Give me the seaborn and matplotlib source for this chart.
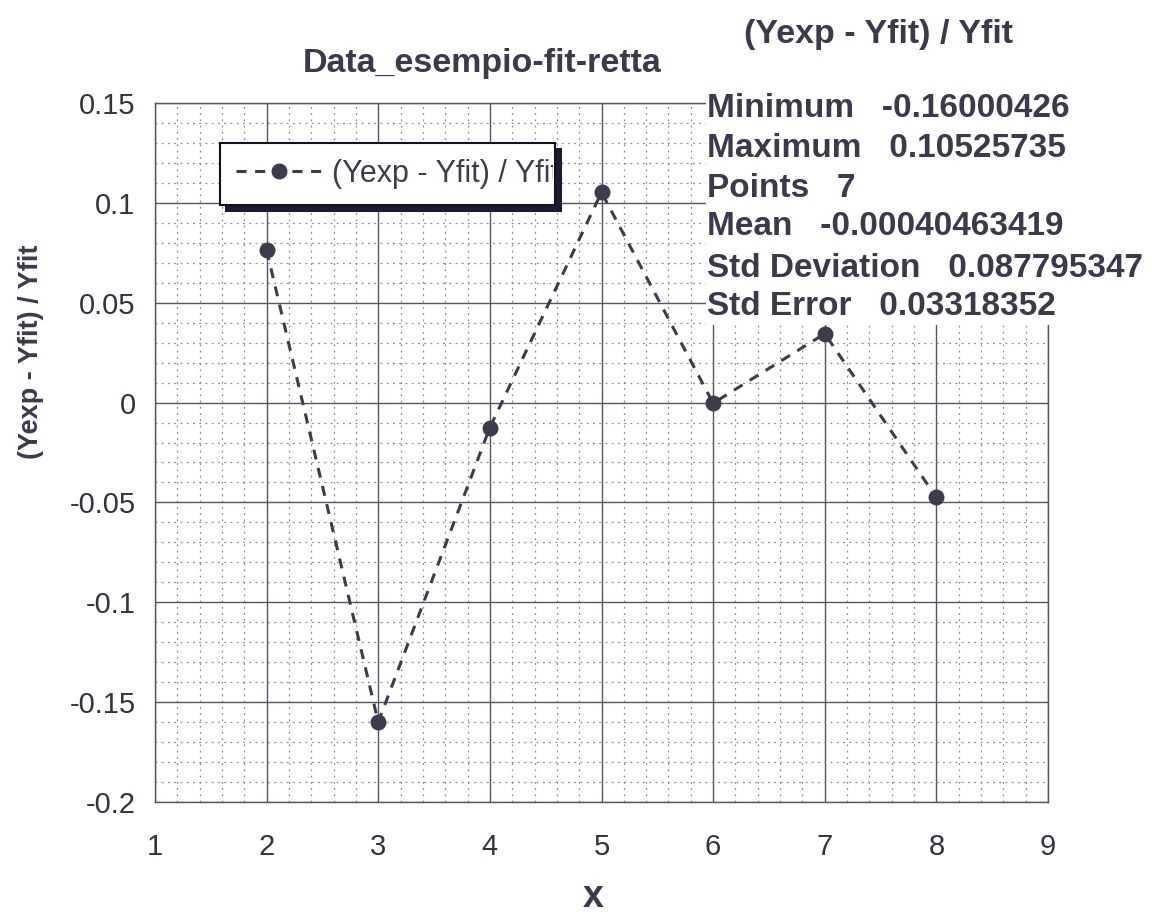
import numpy as np
import pandas as pd
import matplotlib
matplotlib.use("Agg")
import matplotlib.pyplot as plt
from matplotlib.ticker import MultipleLocator, FixedLocator
from matplotlib.patches import Rectangle
from matplotlib.transforms import Bbox, TransformedBbox
import seaborn as sns

# ---- data ----
x_vals = [2, 3, 4, 5, 6, 7, 8]
residuals = [0.0763, -0.16000426, -0.0125, 0.10525735, -0.0003, 0.0345, -0.0475]
series_name = "(Yexp - Yfit) / Yfit"
x_ticks = [1, 2, 3, 4, 5, 6, 7, 8, 9]
y_ticks = [-0.2, -0.15, -0.1, -0.05, 0, 0.05, 0.1, 0.15]
y_tick_labels = ["-0.2", "-0.15", "-0.1", "-0.05", "0", "0.05", "0.1", "0.15"]
stats_labels = ["Minimum", "Maximum", "Points", "Mean", "Std Deviation", "Std Error"]
stats_values = ["-0.16000426", "0.10525735", "7", "-0.00040463419", "0.087795347", "0.03318352"]
title = "Data_esempio-fit-retta"
stats_title = "(Yexp - Yfit) / Yfit"
xlabel = "x"
ylabel = "(Yexp - Yfit) / Yfit"

df = pd.DataFrame({"x": x_vals, "r": residuals})

sns.set_style("white")
plt.rcParams["font.family"] = ["Liberation Sans", "DejaVu Sans"]

W, H = 1160, 915
fig = plt.figure(figsize=(W / 100, H / 100), dpi=100)
fig.patch.set_facecolor("white")

def fx(px):
    return px / W

def fy(py):
    return 1 - py / H

AX_L, AX_R, AX_T, AX_B = 155, 1048, 103, 802
ax = fig.add_axes([fx(AX_L), fy(AX_B), fx(AX_R) - fx(AX_L), fy(AX_T) - fy(AX_B)])

def axx(px):
    return (px - AX_L) / (AX_R - AX_L)

def axy(py):
    return (AX_B - py) / (AX_B - AX_T)

ink = "#3c3c4c"
grid_major = "#55556a"
grid_minor = "#8a8a96"

sns.lineplot(data=df, x="x", y="r", ax=ax, color=ink, marker="o", markersize=11.5,
             markeredgewidth=0, linestyle=(0, (3.3, 2.8)), linewidth=2.2,
             label=series_name, zorder=4)

ax.set_xlim(1, 9)
ax.set_ylim(-0.2, 0.15)
ax.xaxis.set_major_locator(FixedLocator(x_ticks))
ax.yaxis.set_major_locator(FixedLocator(y_ticks))
ax.set_yticklabels(y_tick_labels)
ax.xaxis.set_minor_locator(MultipleLocator(0.2))
ax.yaxis.set_minor_locator(MultipleLocator(0.01))

ax.grid(which="major", color=grid_major, linewidth=1.0, linestyle="-")
ax.grid(which="minor", color=grid_minor, linewidth=0.9, linestyle=(0, (1.5, 3.5)))
ax.set_axisbelow(True)

for s in ax.spines.values():
    s.set_color(grid_major)
    s.set_linewidth(1.0)

ax.tick_params(axis="both", which="major", direction="out", length=10, width=1,
               color=grid_major, labelsize=21, labelcolor="#333340")
ax.tick_params(axis="x", which="major", pad=12)
ax.tick_params(axis="y", which="major", pad=4)
ax.tick_params(which="minor", length=0)
ax.set_xlabel("")
ax.set_ylabel("")

# legend with a fixed-size frame; text clipped at the frame edge as in the reference
lx0, lx1, ly0, ly1 = 220, 555, 143, 205
leg = ax.legend(loc="upper left",
                bbox_to_anchor=(axx(lx0), axy(ly1), axx(lx1) - axx(lx0), axy(ly0) - axy(ly1)),
                mode="expand", frameon=True, fancybox=False, edgecolor="#111122",
                framealpha=1, fontsize=22, handlelength=2.8, handletextpad=0.35,
                borderpad=0.52, borderaxespad=0, numpoints=1,
                shadow={"ox": 4.5, "oy": -4.5, "color": "#1c1c30", "alpha": 1})
leg.get_frame().set_linewidth(1.5)
leg.set_zorder(6)
clip = TransformedBbox(Bbox([[axx(lx0), axy(ly1)], [axx(lx1) - 0.002, axy(ly0)]]), ax.transAxes)
for t in leg.get_texts():
    t.set_color(ink)
    t.set_clip_on(True)
    t.set_clip_box(clip)

# white box behind statistics
fig.patches.append(Rectangle((fx(706), fy(325)), 1 - fx(706), fy(86) - fy(325),
                             transform=fig.transFigure, facecolor="white",
                             edgecolor="none", zorder=5))

text_color = "#3a3a4c"
baselines = [117, 157, 197, 235, 277, 315]
for lab, val, b in zip(stats_labels, stats_values, baselines):
    fig.text(fx(707), fy(b), f"{lab}   {val}", fontsize=24, fontweight="bold",
             color=text_color, ha="left", va="baseline", zorder=7)

fig.text(fx(879), fy(43), stats_title, fontsize=24.5, fontweight="bold",
         color=text_color, ha="center", va="baseline", zorder=7)
fig.text(fx(482), fy(72), title, fontsize=24.5, fontweight="bold",
         color=text_color, ha="center", va="baseline", zorder=7)
fig.text(fx(31), fy(352), ylabel, fontsize=19.5, fontweight="bold",
         color=text_color, ha="center", va="center", rotation=90, zorder=7)
fig.text(fx(593), fy(907), xlabel, fontsize=27, fontweight="bold",
         color=text_color, ha="center", va="baseline", zorder=7)

fig.savefig("out.png", dpi=100, facecolor="white")
